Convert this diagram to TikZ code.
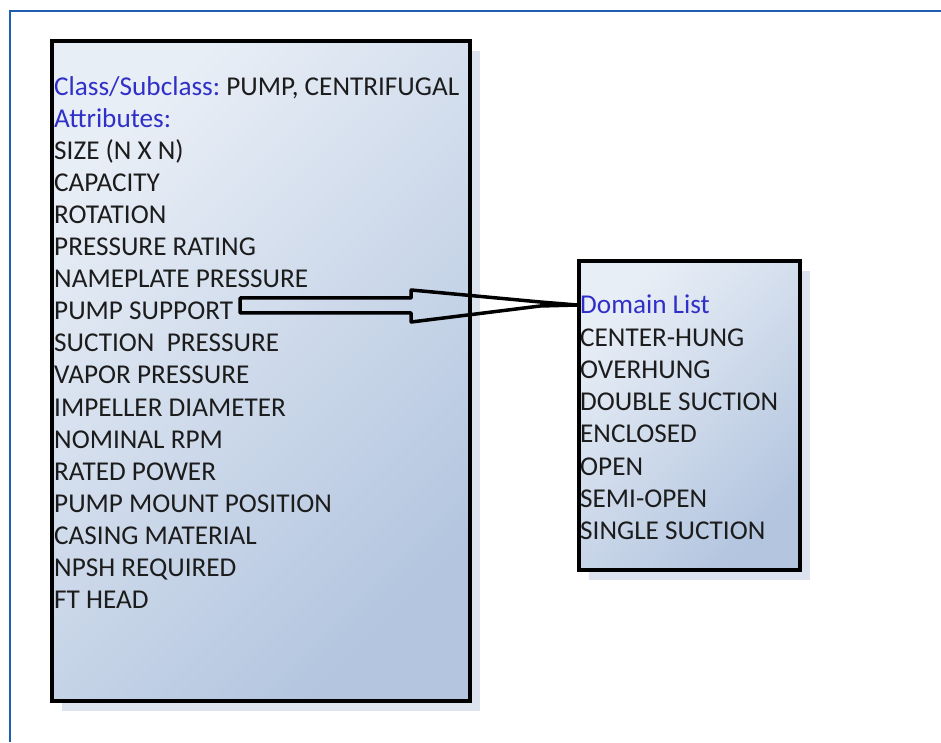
\documentclass[tikz,border=0pt]{standalone}
\usepackage{fontspec}
\setmainfont{Carlito}
\usetikzlibrary{positioning,calc,shadows}
\definecolor{frame}{HTML}{1F5FAF}
\definecolor{hdr}{HTML}{3030C8}
\definecolor{txt}{HTML}{1C1C1C}
\definecolor{boxlt}{HTML}{E8EEF6}
\definecolor{boxdk}{HTML}{B3C5DF}
\definecolor{shd}{HTML}{DCE3EE}
\tikzset{
  every node/.style={font=\fontsize{27.2}{32}\selectfont},
  panel/.style={draw=black, line width=4pt, anchor=south west, inner sep=0pt,
    top color=boxlt, bottom color=boxdk, shading angle=45,
    drop shadow={shadow xshift=10pt, shadow yshift=-10pt, fill=shd, opacity=1}},
  item/.style={anchor=base west, inner sep=0pt, text=txt},
  head/.style={item, text=hdr},
  fat/.style={draw=black, line width=3.5pt, line join=round},
  rule/.style={draw=frame, line width=2pt},
}

\begin{document}
\begin{tikzpicture}[x=1pt, y=1pt]
\useasboundingbox (0,0) rectangle (941,742);

% page frame
\draw[rule] (10,0) |- (941,731);

% ───────────── class box ─────────────
\node[panel, minimum width=418pt, minimum height=660pt] (clsbox) at (50,39) {};
\node[head] (cls) at (54,646) {Class/Subclass:\ \textcolor{txt}{PUMP, CENTRIFUGAL}};
\node[head] (attr) at (54,614) {Attributes:};
\node[item] (size) at (54,582) {SIZE (N X N)};
\node[item] (capacity) at (54,550) {CAPACITY};
\node[item] (rotation) at (54,518) {ROTATION};
\node[item] (prating) at (54,486) {PRESSURE RATING};
\node[item] (nameplate) at (54,454) {NAMEPLATE PRESSURE};
\node[item] (support) at (54,422) {PUMP SUPPORT};
\node[item] (suction) at (54,390) {SUCTION\ \ PRESSURE};
\node[item] (vapor) at (54,358) {VAPOR PRESSURE};
\node[item] (impeller) at (54,326) {IMPELLER DIAMETER};
\node[item] (rpm) at (54,294) {NOMINAL RPM};
\node[item] (power) at (54,262) {RATED POWER};
\node[item] (mount) at (54,230) {PUMP MOUNT POSITION};
\node[item] (casing) at (54,198) {CASING MATERIAL};
\node[item] (npsh) at (54,166) {NPSH REQUIRED};
\node[item] (fthead) at (54,134) {FT HEAD};

% ───────────── domain box ─────────────
\node[panel, minimum width=221pt, minimum height=309pt] (dombox) at (577,170) {};
\node[head] (domain) at (580,428) {Domain List};
\node[item] (center) at (580,395.8) {CENTER-HUNG};
\node[item] (overhung) at (580,363.6) {OVERHUNG};
\node[item] (double) at (580,331.4) {DOUBLE SUCTION};
\node[item] (enclosed) at (580,299.2) {ENCLOSED};
\node[item] (open) at (580,267) {OPEN};
\node[item] (semiopen) at (580,234.8) {SEMI-OPEN};
\node[item] (single) at (580,202.6) {SINGLE SUCTION};

% block arrow: attribute -> its domain list
\coordinate (tail) at ($(support.base east)+(7,15)$);
\coordinate (tip) at ($(domain.base west)+(-3,9)$);
\draw[fat] ($(tail)+(0,7)$) -- ($(tail)+(171,7)$) -- ($(tail)+(171,15)$)
  -- ($(tail)+(300,3)$) -- (tip) -- ($(tail)+(300,-1)$)
  -- ($(tail)+(171,-17)$) -- ($(tail)+(171,-8)$) -- ($(tail)+(0,-8)$) -- cycle;

\end{tikzpicture}
\end{document}
